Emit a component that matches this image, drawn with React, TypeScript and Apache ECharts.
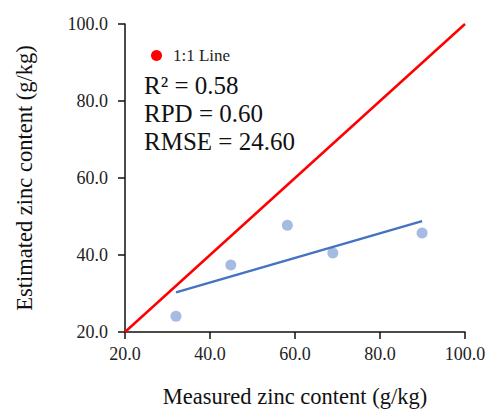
import React, { useEffect, useRef } from "react";
import * as echarts from "echarts";

// Measured vs. estimated zinc content (g/kg)
const measured = [32.0, 44.9, 58.2, 68.9, 89.9];
const estimated = [24.1, 37.4, 47.7, 40.5, 45.7];

// Fitted trend line end points
const trendMeasured = [32.0, 89.9];
const trendEstimated = [30.3, 48.8];

// 1:1 reference line
const identity = [20, 100];

const stats = ["R² = 0.58", "RPD = 0.60", "RMSE = 24.60"];

const FONT = "'Liberation Serif', 'Times New Roman', serif";

export default function App() {
  const ref = useRef<HTMLDivElement>(null);

  useEffect(() => {
    if (!ref.current) return;
    const chart = echarts.init(ref.current, undefined, { renderer: "svg" });

    const axisCommon = {
      type: "value" as const,
      min: 20,
      max: 100,
      interval: 20,
      nameLocation: "middle" as const,
      nameTextStyle: { fontFamily: FONT, fontSize: 22.5, color: "#111" },
      axisLine: { show: true, lineStyle: { color: "#111", width: 1.5 } },
      axisTick: { show: true, length: 7, lineStyle: { color: "#111", width: 1.5 } },
      axisLabel: {
        fontFamily: FONT,
        fontSize: 18,
        color: "#222",
        formatter: (v: number) => v.toFixed(1),
      },
      splitLine: { show: false },
    };

    chart.setOption({
      animation: false,
      backgroundColor: "#fff",
      grid: {
        left: 125,
        right: 24,
        top: 24,
        bottom: 77,
        containLabel: false,
        outerBoundsMode: "none",
      },
      xAxis: {
        ...axisCommon,
        name: "Measured zinc content (g/kg)",
        nameGap: 53,
        axisLabel: { ...axisCommon.axisLabel, margin: 13 },
      },
      yAxis: {
        ...axisCommon,
        name: "Estimated zinc content (g/kg)",
        nameGap: 89,
        axisLabel: { ...axisCommon.axisLabel, margin: 17 },
      },
      legend: {
        left: 146,
        top: 42,
        itemWidth: 11,
        itemHeight: 11,
        itemGap: 10,
        textStyle: { fontFamily: FONT, fontSize: 17, color: "#222", padding: [0, 0, 0, 6] },
        data: [{ name: "1:1 Line", icon: "circle" }],
      },
      series: [
        {
          name: "1:1 Line",
          type: "line",
          data: identity.map((v) => [v, v]),
          showSymbol: false,
          lineStyle: { color: "#ff0000", width: 2.5 },
          itemStyle: { color: "#ff0000" },
          z: 5,
        },
        {
          name: "Trend",
          type: "line",
          data: trendMeasured.map((x, i) => [x, trendEstimated[i]]),
          showSymbol: false,
          lineStyle: { color: "#4472c4", width: 2.5 },
          itemStyle: { color: "#4472c4" },
          z: 4,
        },
        {
          name: "Samples",
          type: "scatter",
          data: measured.map((x, i) => [x, estimated[i]]),
          symbolSize: 11,
          itemStyle: { color: "#8eaadb" },
          z: 3,
        },
      ],
      graphic: stats.map((t, i) => ({
        type: "text",
        left: 144,
        top: 73 + i * 28,
        style: { text: t, fontFamily: FONT, fontSize: 25, fill: "#111" },
      })),
    });

    return () => chart.dispose();
  }, []);

  return (
    <div
      ref={ref}
      style={{ position: "fixed", left: 0, top: 0, width: 489, height: 409 }}
    />
  );
}
